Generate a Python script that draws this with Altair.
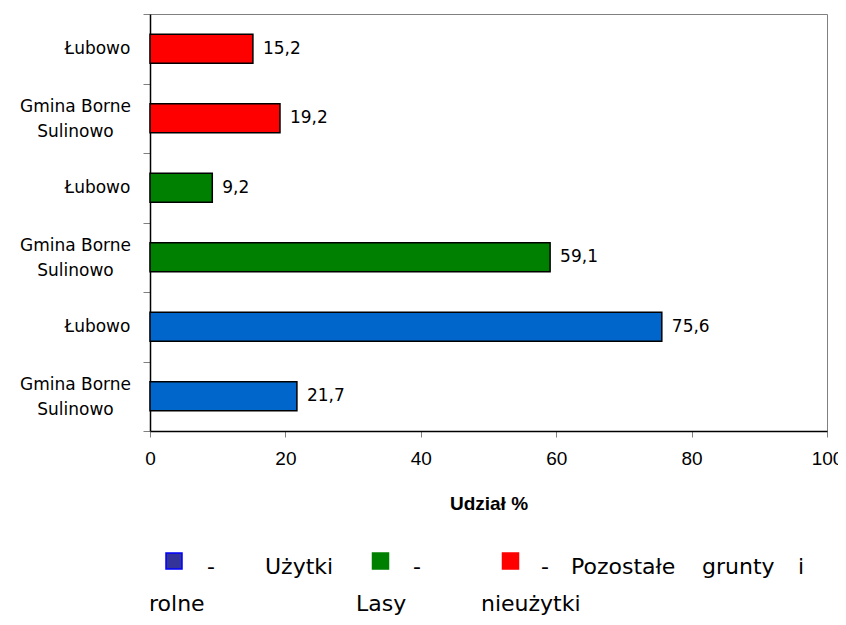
import altair as alt
import pandas as pd

# ---------------- data ----------------
units = ["Gmina Borne\nSulinowo", "Łubowo",
         "Gmina Borne\nSulinowo", "Łubowo",
         "Gmina Borne\nSulinowo", "Łubowo"]
groups = ["Użytki rolne", "Użytki rolne", "Lasy", "Lasy",
          "Pozostałe grunty i nieużytki", "Pozostałe grunty i nieużytki"]
values = [21.7, 75.6, 59.1, 9.2, 19.2, 15.2]
group_names = ["Użytki rolne", "Lasy", "Pozostałe grunty i nieużytki"]
group_colors = ["#0066CC", "#008000", "#FF0000"]
x_ticks = [0, 20, 40, 60, 80, 100]
x_title = "Udział %"

# legend words (justified two-line paragraph under the chart)
legend_line1 = ["-", "Użytki", "-", "-", "Pozostałe", "grunty", "i"]
legend_line2 = ["rolne", "Lasy", "nieużytki"]
legend_square_fill = ["#333399", "#008000", "#FF0000"]
legend_square_stroke = ["#0000FF", "#008000", "#FF0000"]

# ---------------- layout ----------------
W, H = 677, 417
line1_x = [57, 115, 263, 391, 421, 552, 648]
line2_x = [-1, 206, 331]
line1_y, line2_y = 560, 597
square_x = [24, 230.5, 360.5]
square_y = 547

keys = [f"{i}|" + u.replace("\n", "|") for i, u in enumerate(units)]
df = pd.DataFrame({"key": keys, "group": groups, "value": values})
df["label"] = [f"{v:.1f}".replace(".", ",") for v in values]
order = keys[::-1]

two_line = "length(split(datum.value, '|')) > 2"

y_axis = alt.Axis(
    title=None,
    tickBand="extent",
    tickSize=7,
    tickColor="#808080",
    domainColor="#000000",
    domainWidth=1.5,
    labelExpr="slice(split(datum.value, '|'), 1)",
    labelAlign="center",
    labelBaseline="middle",
    labelPadding={"condition": {"test": two_line, "value": 68}, "value": 46},
    labelOffset={"condition": {"test": two_line, "value": -12}, "value": 0},
    labelFont="DejaVu Sans",
    labelFontSize=17,
    labelLineHeight=25,
    labelColor="#000000",
)

y_enc = alt.Y("key:N", sort=order, scale=alt.Scale(paddingInner=0, paddingOuter=0), axis=y_axis)

x_enc = alt.X(
    "value:Q",
    scale=alt.Scale(domain=[0, 100], nice=False),
    axis=alt.Axis(
        values=x_ticks,
        title=x_title,
        grid=False,
        tickSize=6,
        tickColor="#808080",
        domainColor="#000000",
        domainWidth=1.5,
        labelFont="Liberation Sans",
        labelFontSize=19,
        labelColor="#000000",
        labelPadding=12,
        labelFlush=False,
        titleFont="Liberation Sans",
        titleFontSize=19,
        titleFontWeight="bold",
        titleColor="#000000",
        titlePadding=26,
    ),
)

base = alt.Chart(df)

bars = base.mark_bar(height={"band": 0.42}, stroke="#000000", strokeWidth=1.5).encode(
    x=x_enc,
    y=y_enc,
    color=alt.Color("group:N", scale=alt.Scale(domain=group_names, range=group_colors), legend=None),
)

labels = base.mark_text(
    align="left", baseline="middle", dx=10, font="DejaVu Sans", fontSize=17, color="#000000"
).encode(x=x_enc, y=y_enc, text="label:N")

one = alt.Data(values=[{"a": 1}])


def word(s, x, y):
    return alt.Chart(one).mark_text(
        text=s, align="left", baseline="alphabetic", font="DejaVu Sans", fontSize=22, color="#000000"
    ).encode(x=alt.value(x), y=alt.value(y))


def square(fill, stroke, x, y):
    return alt.Chart(one).mark_square(
        size=256, filled=True, fill=fill, stroke=stroke, strokeWidth=1.5, opacity=1
    ).encode(x=alt.value(x), y=alt.value(y))


legend_layers = []
for f, s, x in zip(legend_square_fill, legend_square_stroke, square_x):
    legend_layers.append(square(f, s, x, square_y))
for w, x in zip(legend_line1, line1_x):
    legend_layers.append(word(w, x, line1_y))
for w, x in zip(legend_line2, line2_x):
    legend_layers.append(word(w, x, line2_y))

chart = alt.layer(bars, labels, *legend_layers).properties(
    width=W,
    height=H,
    padding={"left": 142, "top": 6, "right": 11, "bottom": 186},
    autosize=alt.AutoSizeParams(type="none"),
    background="#ffffff",
).configure_view(stroke="#808080", strokeWidth=1)

chart.save("out.html", embed_options={"renderer": "svg", "actions": False})
